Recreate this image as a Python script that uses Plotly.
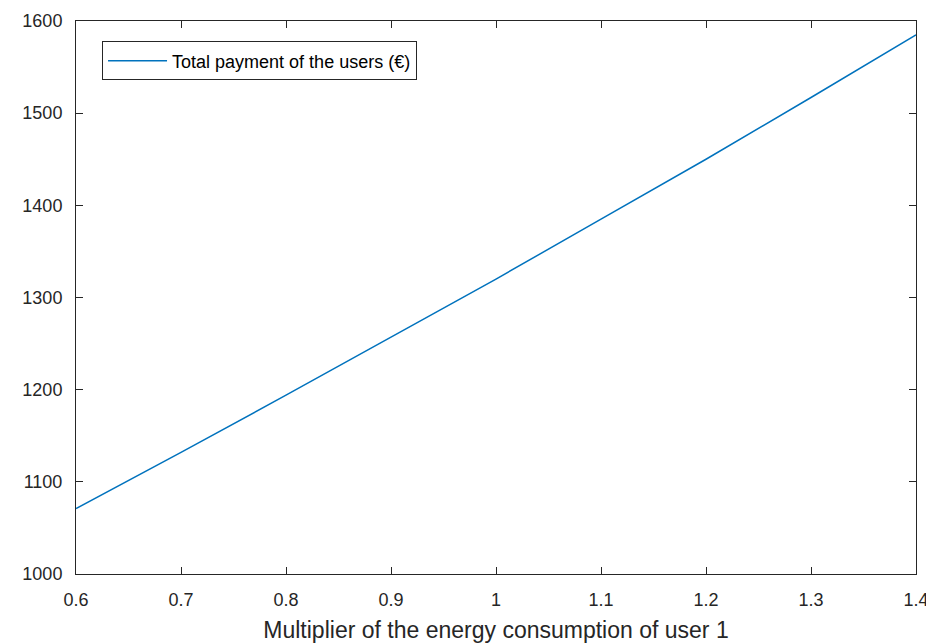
import plotly.graph_objects as go

multiplier = [0.6, 0.7, 0.8, 0.9, 1.0, 1.1, 1.2, 1.3, 1.4]
total_payment = [1071, 1132, 1194, 1257, 1320, 1385, 1450, 1517, 1585]
x_ticks = [0.6, 0.7, 0.8, 0.9, 1, 1.1, 1.2, 1.3, 1.4]
x_tick_labels = ["0.6", "0.7", "0.8", "0.9", "1", "1.1", "1.2", "1.3", "1.4"]
y_ticks = [1000, 1100, 1200, 1300, 1400, 1500, 1600]

axis_color = "#262626"
font_family = "Liberation Sans, Arial, sans-serif"

fig = go.Figure()
fig.add_trace(go.Scatter(
    x=multiplier, y=total_payment, mode="lines",
    name="Total payment of the users (€)",
    line=dict(color="#0072BD", width=1.5),
))

axis_common = dict(
    showgrid=False, zeroline=False, showline=True, linecolor=axis_color, linewidth=1,
    mirror="ticks", ticks="inside", ticklen=7, tickcolor=axis_color, tickwidth=1,
    tickfont=dict(family=font_family, size=18, color=axis_color),
    automargin=False,
)

fig.update_layout(
    width=926, height=635,
    margin=dict(l=68, r=18, t=13, b=69),
    paper_bgcolor="white", plot_bgcolor="white",
    font=dict(family=font_family, color=axis_color),
    xaxis=dict(range=[0.6, 1.4], tickvals=x_ticks, ticktext=x_tick_labels,
               ticklabelstandoff=9,
               title=dict(text="Multiplier of the energy consumption of user 1",
                          font=dict(family=font_family, size=23, color=axis_color), standoff=13),
               **axis_common),
    yaxis=dict(range=[1000, 1600], tickvals=y_ticks, ticklabelstandoff=9, **axis_common),
    showlegend=True,
    legend=dict(x=0.031, y=0.963, xanchor="left", yanchor="top",
                bordercolor=axis_color, borderwidth=1, bgcolor="white",
                font=dict(family=font_family, size=18, color="#000000"),
                itemwidth=59, tracegroupgap=0),
)

fig.write_html("out.html")
